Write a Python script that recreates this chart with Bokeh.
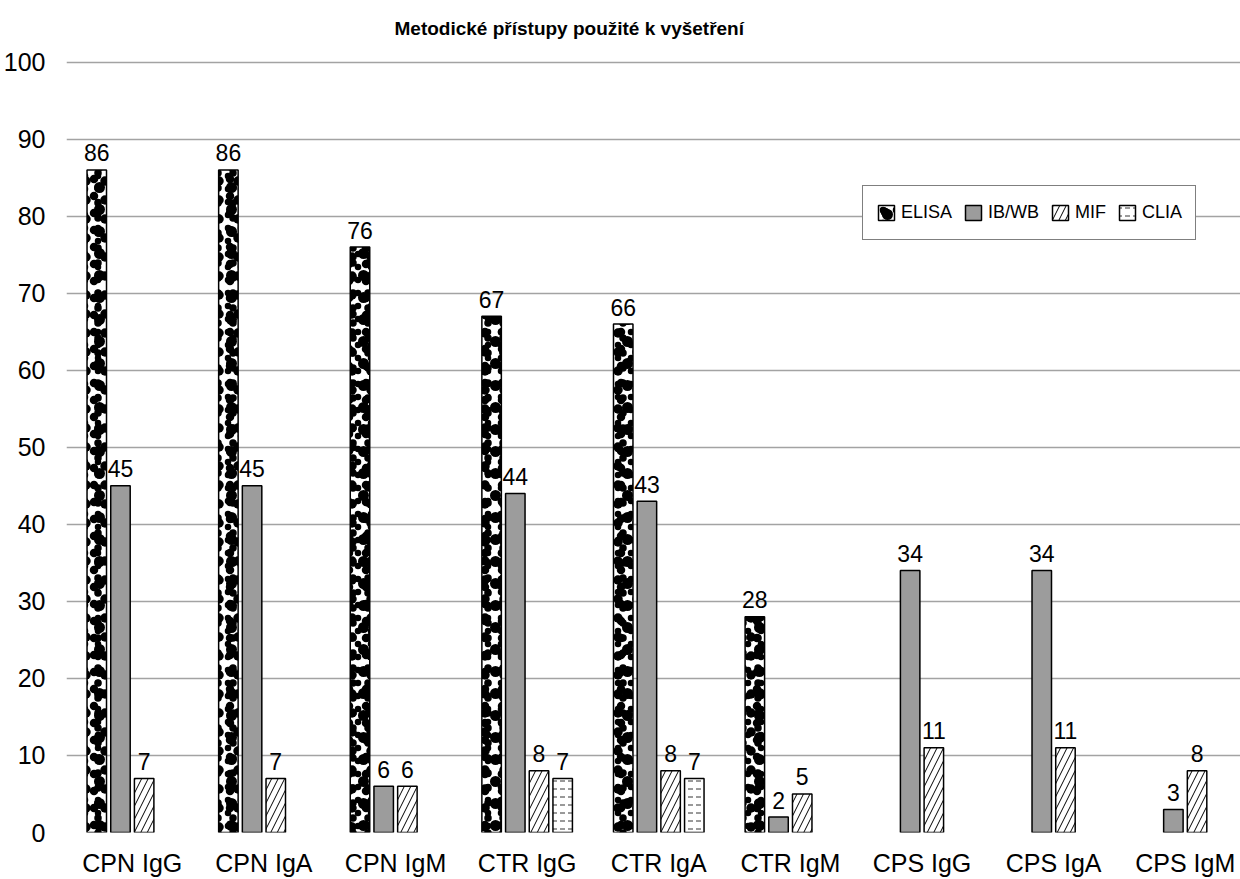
from bokeh.plotting import figure
from bokeh.models import Range1d, FixedTicker, Legend, LegendItem, ColumnDataSource, Label
from bokeh.core.properties import value
from bokeh.embed import file_html
from bokeh.resources import INLINE

# --- data -------------------------------------------------------------
title = "Metodické přístupy použité k vyšetření"
categories = ["CPN IgG", "CPN IgA", "CPN IgM", "CTR IgG", "CTR IgA",
              "CTR IgM", "CPS IgG", "CPS IgA", "CPS IgM"]
series_names = ["ELISA", "IB/WB", "MIF", "CLIA"]
elisa = [86, 86, 76, 67, 66, 28, None, None, None]
ib_wb = [45, 45, 6, 44, 43, 2, 34, 34, 3]
mif = [7, 7, 6, 8, 8, 5, 11, 11, 8]
clia = [None, None, None, 7, 7, None, None, None, None]
y_ticks = [0, 10, 20, 30, 40, 50, 60, 70, 80, 90, 100]

series_values = [elisa, ib_wb, mif, clia]

FONT = "Liberation Sans"
BAR_STEP = 0.18     # distance between neighbouring bars inside a group
BAR_WIDTH = 0.148

# each series is drawn as one or more stacked fill layers; the ELISA fill
# overlays several dot lattices of different pitch to get a confetti look
_pitches = [13, 15, 17, 19, 22]
elisa_layers = [dict(fill_color="white" if j == 0 else None, hatch_pattern="dot",
                     hatch_color="black", hatch_scale=s,
                     line_color="black" if j == len(_pitches) - 1 else None)
                for j, s in enumerate(_pitches)]
styles = [
    elisa_layers,
    [dict(fill_color="#9c9c9c", hatch_pattern=None, line_color="black")],
    [dict(fill_color="white", hatch_pattern="right_diagonal_line",
          hatch_color="black", hatch_scale=13, hatch_weight=1, line_color="black")],
    [dict(fill_color="white", hatch_pattern="horizontal_dash",
          hatch_color="#333333", hatch_scale=8, hatch_weight=1, line_color="black")],
]

# the value axis runs a little past 100 to leave room for the heading
p = figure(width=1240, height=879, output_backend="svg", toolbar_location=None,
           x_range=Range1d(0, 8.92), y_range=Range1d(0, 108),
           min_border_left=66, min_border_right=0,
           min_border_top=0, min_border_bottom=43)
p.outline_line_color = None
p.background_fill_color = "white"
p.border_fill_color = "white"

# axes
p.yaxis.ticker = FixedTicker(ticks=y_ticks)
p.xaxis.ticker = FixedTicker(ticks=[i + 0.5 for i in range(len(categories))])
p.xaxis.major_label_overrides = {i + 0.5: c for i, c in enumerate(categories)}
for ax in (p.xaxis, p.yaxis):
    ax.axis_line_color = None
    ax.major_tick_line_color = None
    ax.minor_tick_line_color = None
    ax.major_label_text_font = FONT
    ax.major_label_text_font_size = "25px"
    ax.major_label_text_color = "black"
p.yaxis.major_label_standoff = 15
p.xaxis.major_label_standoff = 10

p.xgrid.grid_line_color = None
p.ygrid.grid_line_color = "#a3a3a3"
p.ygrid.grid_line_width = 1.5

# bars and value labels
legend_items = []
n = len(series_names)
for k, (name, vals, layers) in enumerate(zip(series_names, series_values, styles)):
    offset = (k - (n - 1) / 2) * BAR_STEP
    xs, tops, labels = [], [], []
    for i, v in enumerate(vals):
        if v is None:
            continue
        xs.append(i + 0.5 + offset)
        tops.append(v)
        labels.append(f"{v:g}")
    src = ColumnDataSource(dict(x=xs, top=tops, label=labels))
    rs = [p.vbar(x="x", top="top", bottom=0, width=BAR_WIDTH, source=src,
                 line_width=1.5, **st) for st in layers]
    legend_items.append(LegendItem(label=name, renderers=rs))
    p.text(x="x", y="top", text="label", source=src, text_align="center",
           text_baseline="alphabetic", y_offset=-17,
           text_font=value(FONT), text_font_size="23px", text_color="black")

# heading
p.add_layout(Label(x=3.82, y=104.4, text=title, text_align="center",
                   text_baseline="middle", text_font=FONT,
                   text_font_size="19px", text_font_style="bold",
                   text_color="black"))

# legend
legend = Legend(items=legend_items, orientation="horizontal", location=(796, 592))
legend.border_line_color = "black"
legend.border_line_width = 1.5
legend.background_fill_color = "white"
legend.background_fill_alpha = 1
legend.label_text_font = FONT
legend.label_text_font_size = "18px"
legend.label_text_color = "black"
legend.glyph_width = 20
legend.glyph_height = 19
legend.label_standoff = 5
legend.spacing = 11
legend.padding = 13
legend.margin = 0
legend.label_height = 27
p.add_layout(legend)

open("out.html", "w").write(file_html(p, INLINE))
